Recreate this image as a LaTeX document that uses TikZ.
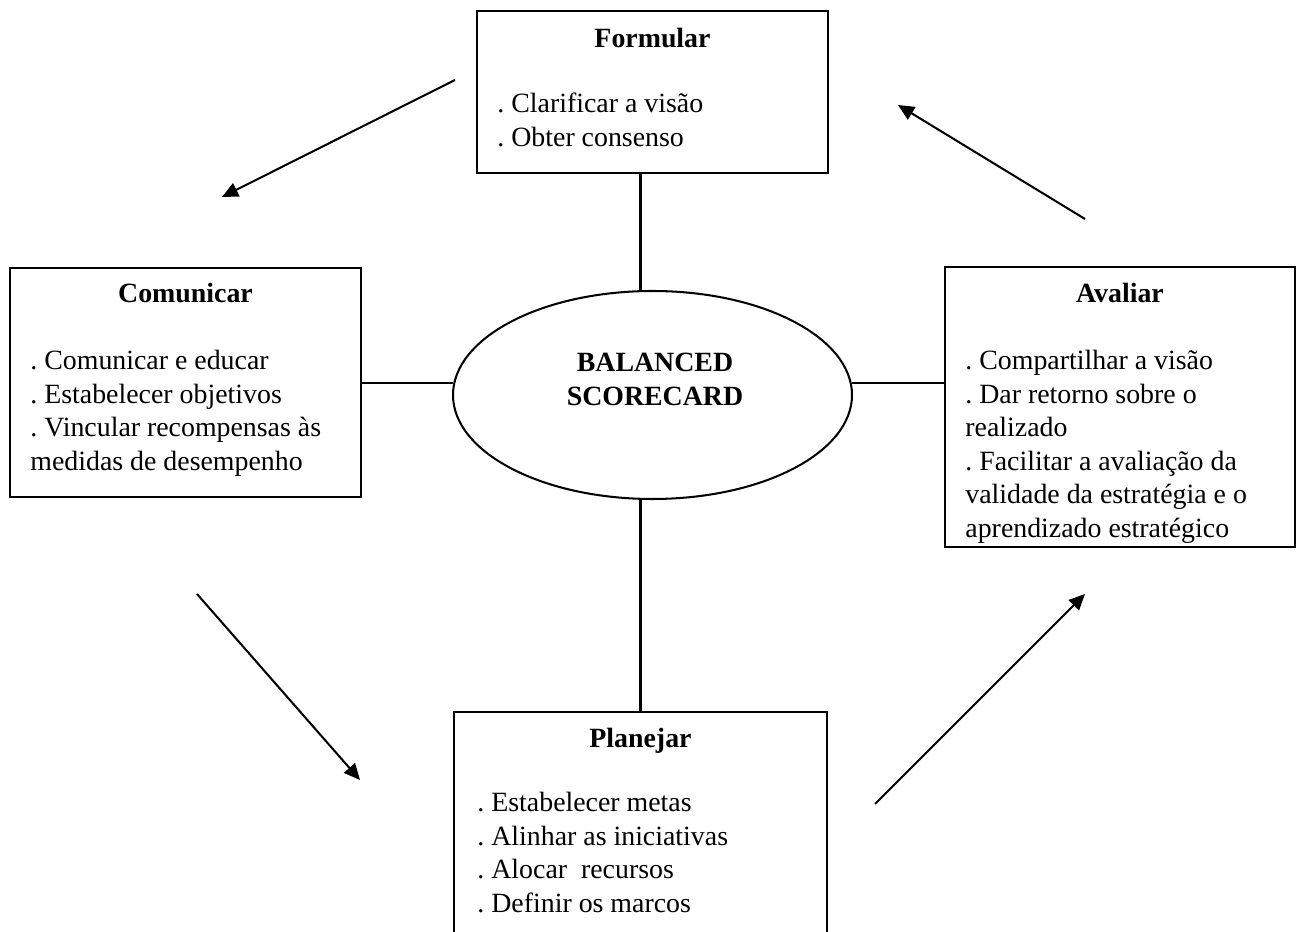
\documentclass[tikz,border=0pt]{standalone}
\usepackage{fontspec}
\setmainfont{Liberation Serif}
\usetikzlibrary{shapes.geometric,arrows.meta}
\frenchspacing
% one drawing unit = one pixel of the layout grid
\newcommand{\pxl}{0.4667pt}
\newcommand{\itemlines}[1]{\begin{tabular}[t]{@{}l@{}}#1\end{tabular}}
\newcommand{\centerlines}[1]{\begin{tabular}[t]{@{}c@{}}#1\end{tabular}}
\begin{document}
\begin{tikzpicture}[x=0.4667pt, y=-0.4667pt,
  every node/.style={font=\fontsize{13}{15.6}\selectfont},
  box/.style={draw, line width=0.95pt, rectangle, inner sep=0pt, outer sep=0pt},
  oval/.style={draw, line width=0.95pt, ellipse, inner sep=0pt, outer sep=0pt},
  ttl/.style={anchor=base, inner sep=0pt, font=\fontsize{13}{15.6}\selectfont\bfseries},
  body/.style={anchor=base west, inner sep=0pt},
  link/.style={line width=0.95pt},
  flow/.style={line width=0.95pt, -{Triangle[length=7.5pt, width=6.8pt]}}]
\useasboundingbox (0,0) rectangle (1297,932);
\clip (0,0) rectangle (1297,932);

% the four stages and the central oval
\node[box, minimum width={351*\pxl}, minimum height={162*\pxl}] (for) at (652.5,92) {};
\node[box, minimum width={351*\pxl}, minimum height={229*\pxl}] (com) at (185.5,382.5) {};
\node[box, minimum width={350*\pxl}, minimum height={280*\pxl}] (ava) at (1120,407) {};
\node[box, minimum width={373*\pxl}, minimum height={288*\pxl}] (pla) at (640.5,856) {};
\node[oval, minimum width={399*\pxl}, minimum height={208*\pxl}] (bsc) at (652.5,395) {};

% texts
\node[ttl] (forT) at (652.5,48) {Formular};
\node[body] (forB) at (497,113) {\itemlines{. Clarificar a visão\\. Obter consenso}};

\node[ttl] (comT) at (185.5,303) {Comunicar};
\node[body] (comB) at (30,370) {\itemlines{. Comunicar e educar\\. Estabelecer objetivos\\. Vincular recompensas às\\medidas de desempenho}};

\node[ttl] (avaT) at (1120,303) {Avaliar};
\node[body] (avaB) at (965,370) {\itemlines{. Compartilhar a visão\\. Dar retorno sobre o\\realizado\\. Facilitar a avaliação da\\validade da estratégia e o\\aprendizado estratégico}};

\node[ttl] (plaT) at (640.5,748) {Planejar};
\node[body] (plaB) at (477,812) {\itemlines{. Estabelecer metas\\. Alinhar as iniciativas\\. Alocar~ recursos\\. Definir os marcos}};

\node[ttl] (bscT) at (655,372) {\centerlines{BALANCED\\SCORECARD}};

% connectors between the stages and the oval
\coordinate (midrow) at (0,383);
\draw[link] (pla.north |- for.south) -- (pla.north |- bsc.north);
\draw[link] (pla.north) -- (pla.north |- bsc.south);
\draw[link] (com.east |- midrow) -- (bsc.west |- midrow);
\draw[link] (bsc.east |- midrow) -- (ava.west |- midrow);

% cycle arrows
\coordinate (a1s) at (455,80);   \coordinate (a1e) at (222,197);
\coordinate (a2s) at (197,594);  \coordinate (a2e) at (360,780);
\coordinate (a3s) at (875,804);  \coordinate (a3e) at (1085,594);
\coordinate (a4s) at (1085,219); \coordinate (a4e) at (898,105);
\draw[flow] (a1s) -- (a1e);
\draw[flow] (a2s) -- (a2e);
\draw[flow] (a3s) -- (a3e);
\draw[flow] (a4s) -- (a4e);
\end{tikzpicture}
\end{document}
